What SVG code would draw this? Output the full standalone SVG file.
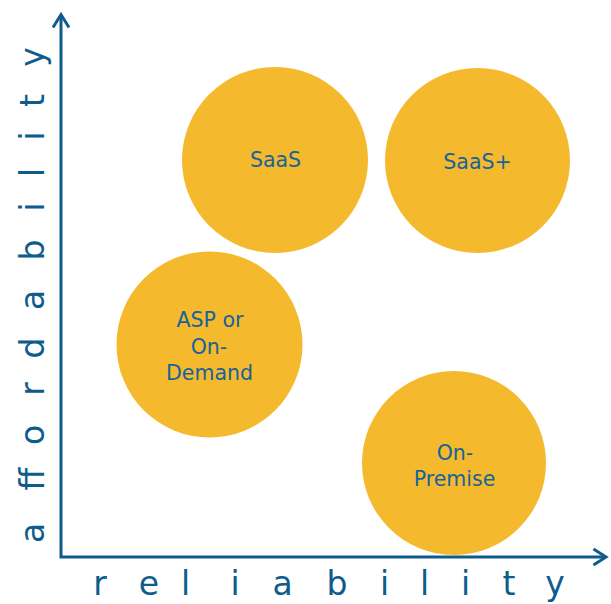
<svg xmlns="http://www.w3.org/2000/svg" width="611" height="604" viewBox="0 0 611 604">
  <style>
    .bubble { fill: #F4B92C; }
    .label { font-family: "DejaVu Sans", "Liberation Sans", sans-serif; font-size: 20.5px; fill: #17639A; text-anchor: middle; }
    .axis { fill: none; stroke: #0E5C8C; stroke-width: 3; stroke-linejoin: miter; stroke-linecap: butt; }
    .axis-title { font-family: "DejaVu Sans", "Liberation Sans", sans-serif; font-size: 33px; fill: #0E5C8C; text-anchor: middle; }
  </style>
  <rect width="611" height="604" fill="#FFFFFF"/>

  <!-- bubbles -->
  <g id="node-saas">
    <circle class="bubble" cx="275" cy="160" r="93"/>
    <text class="label" x="275.5" y="167">SaaS</text>
  </g>
  <g id="node-saas-plus">
    <circle class="bubble" cx="477.5" cy="160.5" r="92.5"/>
    <text class="label" x="477.5" y="168.5">SaaS+</text>
  </g>
  <g id="node-asp">
    <circle class="bubble" cx="209.5" cy="344.5" r="93"/>
    <text class="label" x="210" y="327">ASP or</text>
    <text class="label" x="209" y="354">On-</text>
    <text class="label" x="209.5" y="380">Demand</text>
  </g>
  <g id="node-on-premise">
    <circle class="bubble" cx="454" cy="463" r="92"/>
    <text class="label" x="455" y="460">On-</text>
    <text class="label" x="454.5" y="486">Premise</text>
  </g>

  <!-- axes -->
  <g id="connectors">
    <path class="axis" d="M61,15 L61,557 L605,557"/>
    <path class="axis" d="M53,27.5 L61,14.5 L69,27.5"/>
    <path class="axis" d="M593.5,549 L606,557 L593.5,565"/>
  </g>

  <!-- axis titles, spaced letter by letter -->
  <text class="axis-title" y="595"><tspan x="100">r</tspan><tspan x="149">e</tspan><tspan x="185.5">l</tspan><tspan x="235">i</tspan><tspan x="282.5">a</tspan><tspan x="337">b</tspan><tspan x="384.5">i</tspan><tspan x="424.5">l</tspan><tspan x="465.5">i</tspan><tspan x="509">t</tspan><tspan x="555">y</tspan></text>
  <text class="axis-title" transform="rotate(-90)" y="43.5"><tspan x="-533">a</tspan><tspan x="-479">ff</tspan><tspan x="-435">o</tspan><tspan x="-389">r</tspan><tspan x="-348">d</tspan><tspan x="-300">a</tspan><tspan x="-250">b</tspan><tspan x="-207">i</tspan><tspan x="-172.5">l</tspan><tspan x="-136">i</tspan><tspan x="-100.5">t</tspan><tspan x="-57">y</tspan></text>
</svg>
